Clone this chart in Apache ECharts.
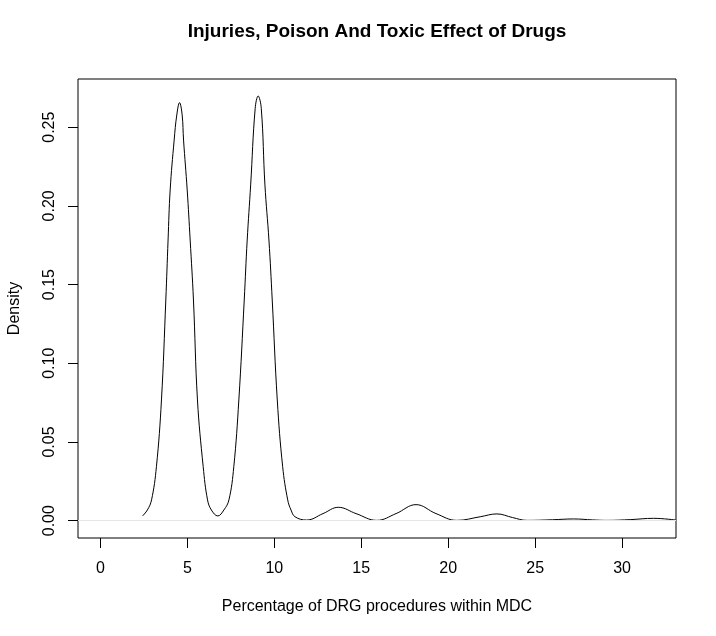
<!DOCTYPE html>
<html>
<head>
<meta charset="utf-8">
<script src="https://cdn.jsdelivr.net/npm/echarts@6/dist/echarts.min.js"></script>
<style>html,body{margin:0;padding:0;background:#fff;}#c{width:716px;height:636px;}</style>
</head>
<body>
<div id="c"></div>
<script>
var titleText = "Injuries, Poison And Toxic Effect of Drugs";
var xName = "Percentage of DRG procedures within MDC";
var yName = "Density";
var xTicks = [0, 5, 10, 15, 20, 25, 30];
var yTicks = [0, 0.05, 0.10, 0.15, 0.20, 0.25];
var densX = [2.42, 2.70, 2.94, 3.22, 3.51, 3.76, 3.89, 4.01, 4.24, 4.39, 4.55, 4.70, 4.78, 4.99, 5.16, 5.35, 5.58, 5.91, 6.16, 6.38, 6.75,
  7.10, 7.39, 7.67, 7.96, 8.27, 8.44, 8.64, 8.90, 9.07, 9.25, 9.46, 9.69, 9.88, 10.17, 10.48, 10.77, 10.96, 11.19, 11.86,
  12.8, 13.68, 14.7, 15.89, 17.0, 18.15, 19.3, 20.5, 21.84, 22.8, 23.7, 24.53, 26.0, 27.21, 28.3, 29.13, 30.5, 31.81, 33.1];
var densY = [0.0030, 0.0068, 0.0132, 0.0343, 0.0767, 0.1402, 0.1783, 0.2101, 0.2418, 0.2577, 0.2656, 0.2577, 0.2418, 0.2101, 0.1783, 0.1402, 0.0767, 0.0343, 0.0132, 0.0068, 0.0030,
  0.0068, 0.0132, 0.0343, 0.0767, 0.1402, 0.1783, 0.2133, 0.2620, 0.2698, 0.2620, 0.2133, 0.1783, 0.1402, 0.0767, 0.0343, 0.0132, 0.0068, 0.0025, 0.0004,
  0.0045, 0.0085, 0.0045, 0.0002, 0.0045, 0.0102, 0.0045, 0.0002, 0.0025, 0.0043, 0.0020, 0.0002, 0.0006, 0.0011, 0.0005, 0.0002, 0.0007, 0.0015, 0.0004];

var pts = densX.map(function (x, i) { return [x, densY[i]]; });
var font = "'Liberation Sans', Arial, Helvetica, sans-serif";
var chart = echarts.init(document.getElementById('c'), null, {renderer: 'canvas'});
chart.setOption({
  animation: false,
  backgroundColor: '#fff',
  title: {
    text: titleText, left: 372, top: 17, textAlign: 'center',
    textStyle: {fontFamily: font, fontSize: 19, fontWeight: 'bold', color: '#000'}
  },
  grid: {left: 78, top: 79, right: 40, bottom: 98, show: true, borderColor: '#000', borderWidth: 1,
    backgroundColor: 'transparent', containLabel: false, outerBoundsMode: 'none'},
  xAxis: {
    type: 'value', min: -1.29, max: 33.1,
    name: xName, nameLocation: 'middle', nameGap: 61,
    nameTextStyle: {fontFamily: font, fontSize: 16, color: '#000'},
    axisLine: {show: false, onZero: false},
    splitLine: {show: false},
    axisTick: {show: true, inside: false, length: 10, customValues: xTicks, lineStyle: {color: '#000'}},
    axisLabel: {show: true, customValues: xTicks, margin: 23, fontFamily: font, fontSize: 16, color: '#000'}
  },
  yAxis: {
    type: 'value', min: -0.011, max: 0.2806,
    name: yName, nameLocation: 'middle', nameGap: 55, nameRotate: 90,
    nameTextStyle: {fontFamily: font, fontSize: 16, color: '#000'},
    axisLine: {show: false, onZero: false},
    splitLine: {show: false},
    axisTick: {show: true, inside: false, length: 10, customValues: yTicks, lineStyle: {color: '#000'}},
    axisLabel: {show: true, customValues: yTicks, rotate: 90, margin: 20, fontFamily: font, fontSize: 16, color: '#000',
      formatter: function (v) { return v.toFixed(2); }}
  },
  series: [{
    type: 'line', data: pts, showSymbol: false, smooth: 0.4, clip: true,
    lineStyle: {color: '#000', width: 1},
    markLine: {
      silent: true, symbol: 'none', label: {show: false},
      lineStyle: {color: '#e6e6e6', width: 1, type: 'solid'},
      data: [{yAxis: 0}]
    }
  }]
});
</script>
</body>
</html>
